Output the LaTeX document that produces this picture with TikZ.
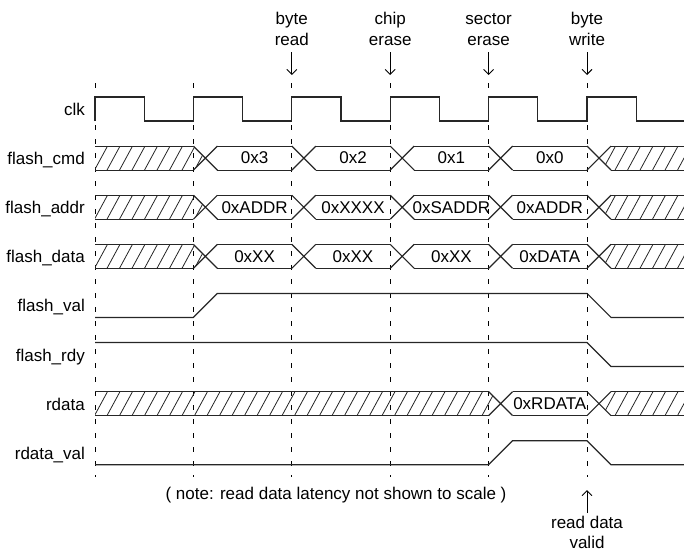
\documentclass[tikz,border=0pt]{standalone}
\usepackage{fontspec}
\setmainfont{Liberation Sans}
\usetikzlibrary{arrows.meta}

\begin{document}
\begin{tikzpicture}[x=1pt, y=-1pt,
                    txt/.style={font=\fontsize{17}{21}\selectfont, inner sep=3pt},
                    siglabel/.style={txt, anchor=base east},
                    evt/.style={txt, align=center},
                    wave/.style={line width=1.2pt, black!85},
                    hatch/.style={line width=0.8pt, black!85},
                    tick/.style={line width=0.9pt, dash pattern=on 5pt off 9pt},
                    pointer/.style={line width=0.9pt, -{Straight Barb[length=5pt, width=10pt]}}]

    \useasboundingbox (0,0) rectangle (684,555);

    % Clock edges
    \foreach \t in {95,193.4,291.8,390.2,488.6,587}
        \draw[tick] (\t,83) -- (\t,477);

    % Signal names
    \node[siglabel] (clk)   at (88,115.5) {clk};
    \node[siglabel] (cmd)   at (88,164.6) {flash\_cmd};
    \node[siglabel] (addr)  at (88,213.7) {flash\_addr};
    \node[siglabel] (data)  at (88,262.8) {flash\_data};
    \node[siglabel] (val)   at (88,311.9) {flash\_val};
    \node[siglabel] (rdy)   at (88,361.0) {flash\_rdy};
    \node[siglabel] (rdata) at (88,410.1) {rdata};
    \node[siglabel] (rdval) at (88,459.2) {rdata\_val};

    % clk
    \draw[wave] (95,121) \foreach \t in {95,193.4,291.8,390.2,488.6,587}
        { -- (\t,121) -- (\t,97) -- (\t+49.2,97) -- (\t+49.2,121) } -- (684,121);

    % Busses
    \foreach \y in {158.1,207.2,256.3} {
        \begin{scope}
            \clip (95,\y-12) -- (193.4,\y-12) -- (205.4,\y) -- (193.4,\y+12) -- (95,\y+12) -- cycle;
            \foreach \x in {82,94.5,...,210} \draw[hatch] (\x,\y+12) -- ++(13,-24);
        \end{scope}
        \begin{scope}
            \clip (599,\y) -- (611,\y-12) -- (684,\y-12) -- (684,\y+12) -- (611,\y+12) -- cycle;
            \foreach \x in {590,602.5,...,690} \draw[hatch] (\x,\y+12) -- ++(13,-24);
        \end{scope}
        \foreach \a/\b in {95/193.4,217.4/291.8,315.8/390.2,414.2/488.6,512.6/587,611/684}
            \draw[wave] (\a,\y-12) -- (\b,\y-12) (\a,\y+12) -- (\b,\y+12);
        \foreach \t in {193.4,291.8,390.2,488.6,587}
            \draw[wave] (\t,\y-12) -- ++(24,24) (\t,\y+12) -- ++(24,-24);
    }
    \foreach \t/\n/\v in {193.4/cmdA/0x3, 291.8/cmdB/0x2, 390.2/cmdC/0x1, 488.6/cmdD/0x0}
        \node[txt] (\n) at (\t+61.2,158.1) {\v};
    \foreach \t/\n/\v in {193.4/addrA/0xADDR, 291.8/addrB/0xXXXX, 390.2/addrC/0xSADDR, 488.6/addrD/0xADDR}
        \node[txt] (\n) at (\t+61.2,207.2) {\v};
    \foreach \t/\n/\v in {193.4/dataA/0xXX, 291.8/dataB/0xXX, 390.2/dataC/0xXX, 488.6/dataD/0xDATA}
        \node[txt] (\n) at (\t+61.2,256.3) {\v};

    % rdata
    \begin{scope}
        \clip (95,391.6) -- (488.6,391.6) -- (500.6,403.6) -- (488.6,415.6) -- (95,415.6) -- cycle;
        \foreach \x in {82,94.5,...,505} \draw[hatch] (\x,415.6) -- ++(13,-24);
    \end{scope}
    \begin{scope}
        \clip (599,403.6) -- (611,391.6) -- (684,391.6) -- (684,415.6) -- (611,415.6) -- cycle;
        \foreach \x in {590,602.5,...,690} \draw[hatch] (\x,415.6) -- ++(13,-24);
    \end{scope}
    \foreach \a/\b in {95/488.6,512.6/587,611/684}
        \draw[wave] (\a,391.6) -- (\b,391.6) (\a,415.6) -- (\b,415.6);
    \foreach \t in {488.6,587}
        \draw[wave] (\t,391.6) -- ++(24,24) (\t,415.6) -- ++(24,-24);
    \node[txt] (rdataA) at (549.8,403.6) {0xRDATA};

    % Levels
    \draw[wave] (95,317.4) -- (193.4,317.4) -- (217.4,293.4) -- (587,293.4) -- (611,317.4) -- (684,317.4);
    \draw[wave] (95,342.5) -- (587,342.5) -- (611,366.5) -- (684,366.5);
    \draw[wave] (95,464.7) -- (488.6,464.7) -- (512.6,440.7) -- (587,440.7) -- (611,464.7) -- (684,464.7);

    % Commands
    \foreach \t/\n/\lbl in {291.8/byteread/{byte\\read}, 390.2/chiperase/{chip\\erase},
                            488.6/sectorerase/{sector\\erase}, 587/bytewrite/{byte\\write}} {
        \node[evt, anchor=south] (\n) at (\t,48.5) {\lbl};
        \coordinate (\n tip) at (\t,75);
        \draw[pointer, shorten <=3.5pt] (\n.south) -- (\n tip);
    }

    \node[evt, anchor=north, font=\fontsize{17}{20}\selectfont] (rdvalid) at (587,513) {read data\\valid};
    \coordinate (rdtip) at (587,490);
    \draw[pointer] (rdvalid.north) -- (rdtip);

    \node[txt, anchor=base] (note) at (336,499) {( note: read data latency not shown to scale )};

\end{tikzpicture}
\end{document}
